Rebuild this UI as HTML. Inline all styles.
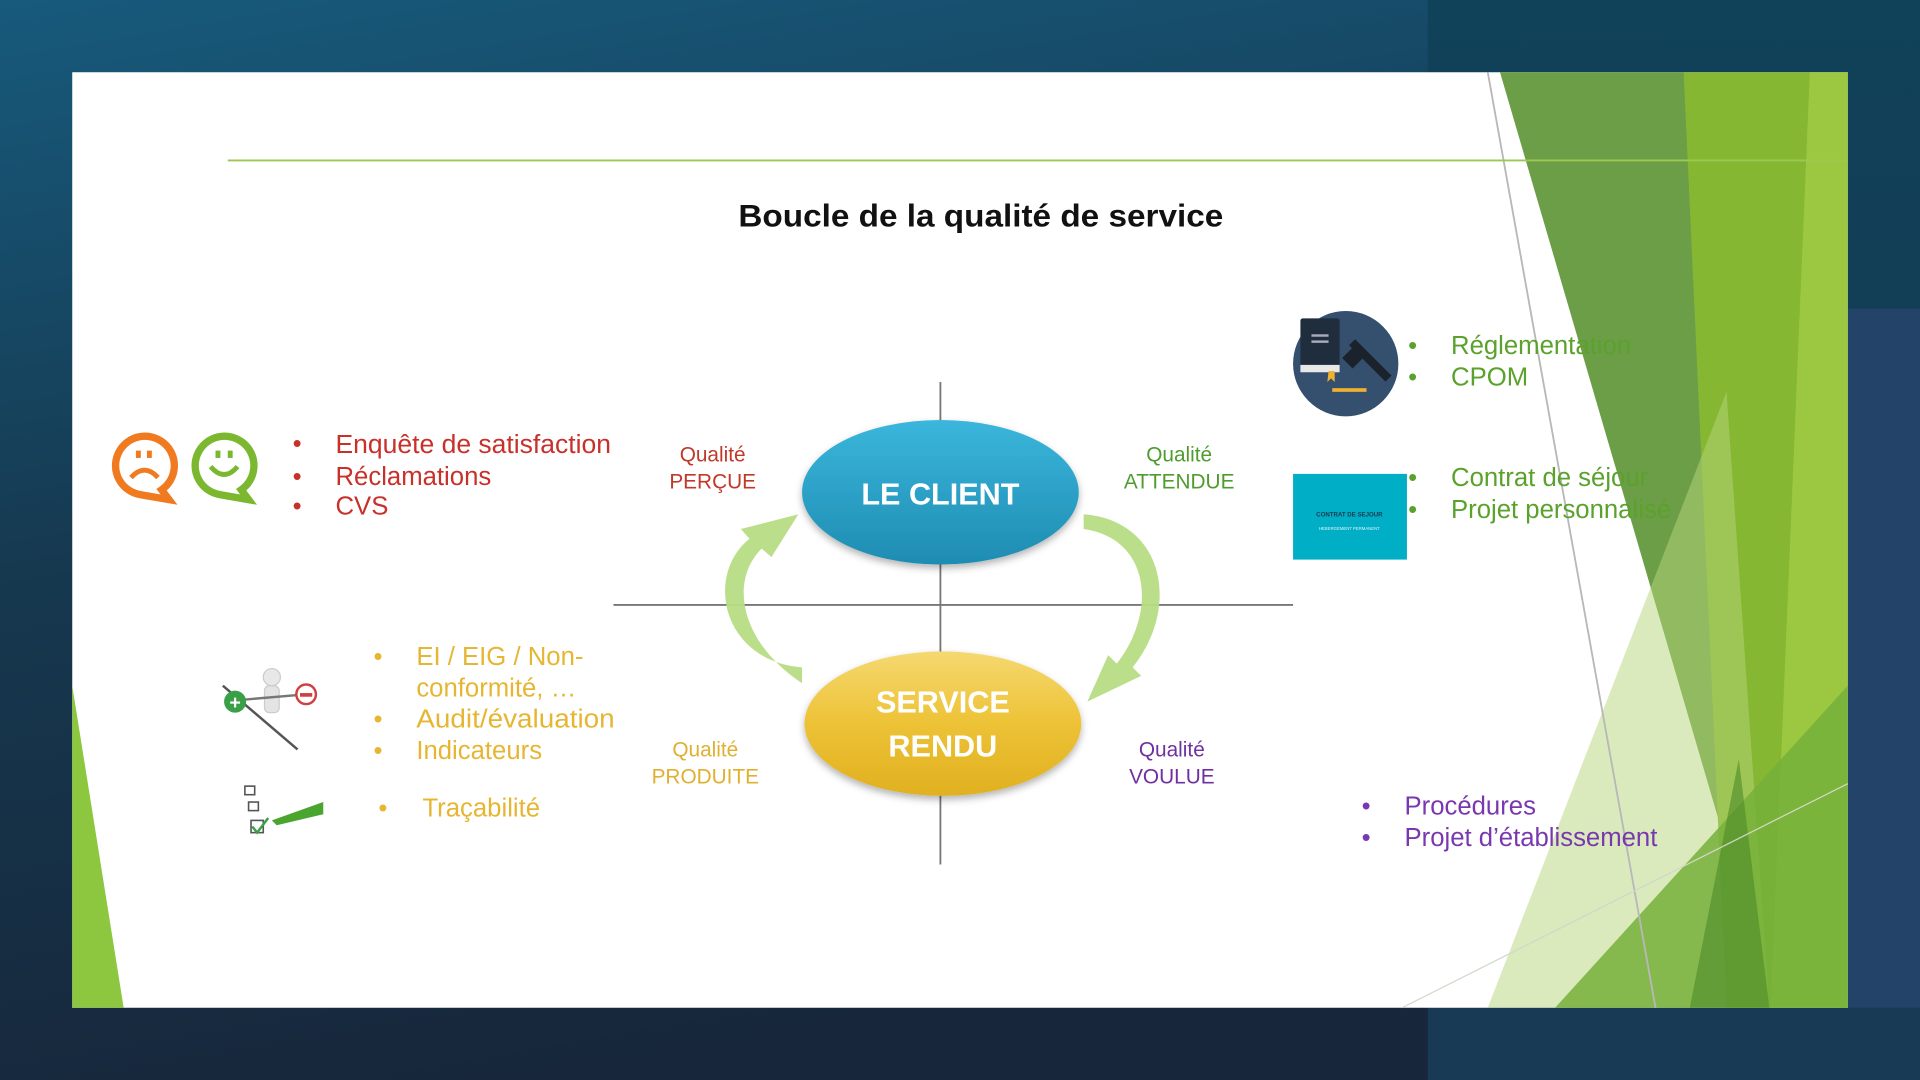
<!DOCTYPE html>
<html><head><meta charset="utf-8"><style>
html,body{margin:0;padding:0;width:1920px;height:1080px;overflow:hidden;background:#172a40}
svg{display:block}
text{font-family:"Liberation Sans","DejaVu Sans",sans-serif}
</style></head><body>
<svg width="1920" height="1080" viewBox="0 0 1568 882" preserveAspectRatio="none" xmlns="http://www.w3.org/2000/svg">
<defs>
<linearGradient id="bg" x1="0" y1="0" x2="0.3" y2="1">
<stop offset="0" stop-color="#175a7c"/><stop offset="0.5" stop-color="#16384f"/><stop offset="1" stop-color="#17263a"/></linearGradient>
<linearGradient id="bgr" x1="0" y1="0" x2="0" y2="1">
<stop offset="0" stop-color="#10425a"/><stop offset="1" stop-color="#18324a"/></linearGradient>
<linearGradient id="blue" x1="0" y1="0" x2="0" y2="1">
<stop offset="0" stop-color="#3bb6dc"/><stop offset="1" stop-color="#1e8cb2"/></linearGradient>
<linearGradient id="yel" x1="0" y1="0" x2="0" y2="1">
<stop offset="0" stop-color="#f5d870"/><stop offset="0.5" stop-color="#edc236"/><stop offset="1" stop-color="#e0b020"/></linearGradient>
<filter id="sh" x="-20%" y="-20%" width="140%" height="150%"><feDropShadow dx="0" dy="3" stdDeviation="3" flood-opacity="0.3"/></filter>
</defs>
<rect width="1568" height="882" fill="url(#bg)"/>
<rect x="1166" y="0" width="402" height="882" fill="url(#bgr)"/>
<rect x="1509" y="252" width="59" height="571" fill="#234468"/>
<rect x="1166" y="823" width="402" height="59" fill="#183a55"/>
<rect x="59" y="59" width="1450" height="764" fill="#ffffff"/>
<polygon points="59,560 59,823 101,823" fill="#8dc63f"/>
<polygon points="1225,59 1378,59 1430,760" fill="#6c9e48"/>
<polygon points="1375,59 1480,59 1448,823 1410,823" fill="#86b733"/>
<polygon points="1478,59 1509,59 1509,823 1446,823" fill="#9bc840"/>
<polygon points="1215,823 1410,320 1445,823" fill="#b5d67a" opacity="0.5"/>
<polygon points="1270,823 1509,560 1509,823" fill="#76b03a" opacity="0.85"/>
<polygon points="1380,823 1420,620 1445,823" fill="#4c8a2a" opacity="0.6"/>
<line x1="1215" y1="59" x2="1352" y2="823" stroke="#b8b8b8" stroke-width="1.5"/>
<line x1="1145" y1="823" x2="1509" y2="640" stroke="#d0d8c8" stroke-width="1"/>
<line x1="186" y1="131" x2="1509" y2="131" stroke="#9bc850" stroke-width="1.5"/>
<text x="801" y="185" text-anchor="middle" font-size="26" font-weight="bold" fill="#111" textLength="396" lengthAdjust="spacingAndGlyphs">Boucle de la qualité de service</text>
<line x1="768" y1="312" x2="768" y2="706" stroke="#777" stroke-width="1.5"/>
<line x1="501" y1="494" x2="1056" y2="494" stroke="#777" stroke-width="1.5"/>
<path d="M655,545 C590,540 575,470 612,440 L605,432 L652,420 L630,455 L622,448 C595,475 605,525 655,558 Z" fill="#b7dc84" opacity="0.95"/>
<path d="M885,420 C950,425 965,495 925,545 L932,552 L888,573 L905,535 L912,542 C945,500 940,440 885,432 Z" fill="#b7dc84" opacity="0.95"/>
<ellipse cx="768" cy="402" rx="113" ry="59" fill="url(#blue)" filter="url(#sh)"/>
<text x="768" y="412" text-anchor="middle" font-size="25" font-weight="bold" fill="#fff">LE CLIENT</text>
<ellipse cx="770" cy="591" rx="113" ry="59" fill="url(#yel)" filter="url(#sh)"/>
<text x="770" y="582" text-anchor="middle" font-size="25" font-weight="bold" fill="#fff">SERVICE</text>
<text x="770" y="618" text-anchor="middle" font-size="25" font-weight="bold" fill="#fff">RENDU</text>
<g font-size="17" text-anchor="middle">
<text x="582" y="377" fill="#c0392b">Qualité</text><text x="582" y="399" fill="#c0392b">PERÇUE</text>
<text x="963" y="377" fill="#4f9c2e">Qualité</text><text x="963" y="399" fill="#4f9c2e">ATTENDUE</text>
<text x="576" y="618" fill="#e0b030">Qualité</text><text x="576" y="640" fill="#e0b030">PRODUITE</text>
<text x="957" y="618" fill="#7030a0">Qualité</text><text x="957" y="640" fill="#7030a0">VOULUE</text>
</g>
<g fill="none" stroke-width="6">
<path d="M132,400 A24,24 0 1 0 115,404 L138,408 Z" stroke="#f07a20"/>
<path d="M197,400 A24,24 0 1 0 180,404 L203,408 Z" stroke="#7cb82f"/>
</g>
<rect x="111" y="368" width="4" height="6" fill="#f07a20"/><rect x="120" y="368" width="4" height="6" fill="#f07a20"/>
<path d="M107,390 Q118,378 129,390" stroke="#f07a20" stroke-width="4" fill="none"/>
<rect x="176" y="368" width="4" height="6" fill="#7cb82f"/><rect x="186" y="368" width="4" height="6" fill="#7cb82f"/>
<path d="M172,381 Q183,394 194,381" stroke="#7cb82f" stroke-width="4" fill="none"/>
<g font-size="21" fill="#c8302a">
<text x="239" y="369">•</text><text x="274" y="370" textLength="225" lengthAdjust="spacingAndGlyphs">Enquête de satisfaction</text>
<text x="239" y="396">•</text><text x="274" y="396">Réclamations</text>
<text x="239" y="420">•</text><text x="274" y="420">CVS</text>
</g>
<line x1="182" y1="560" x2="243" y2="612" stroke="#555" stroke-width="2"/>
<circle cx="222" cy="553" r="7" fill="#e8e8e8" stroke="#ccc"/>
<rect x="216" y="560" width="12" height="22" rx="4" fill="#e4e4e4" stroke="#ccc"/>
<line x1="192" y1="572" x2="250" y2="567" stroke="#777" stroke-width="2"/>
<circle cx="192" cy="573" r="9" fill="#3aa048"/><text x="192" y="579" text-anchor="middle" font-size="16" font-weight="bold" fill="#fff">+</text>
<circle cx="250" cy="567" r="8" fill="#fff" stroke="#d04040" stroke-width="2"/><rect x="245" y="566" width="10" height="3" fill="#d04040"/>
<g stroke="#555" fill="none" stroke-width="1.3">
<rect x="200" y="642" width="8" height="7"/><rect x="203" y="655" width="8" height="7"/><rect x="205" y="670" width="10" height="10"/>
</g>
<path d="M206,675 L210,680 L219,668" stroke="#3aa048" stroke-width="2" fill="none"/>
<polygon points="222,670 264,655 264,665 226,674" fill="#4aa52e"/>
<g font-size="21" fill="#e6b632">
<text x="305" y="543">•</text><text x="340" y="543">EI / EIG / Non-</text>
<text x="340" y="569">conformité, …</text>
<text x="305" y="594">•</text><text x="340" y="594" textLength="162" lengthAdjust="spacingAndGlyphs">Audit/évaluation</text>
<text x="305" y="620">•</text><text x="340" y="620">Indicateurs</text>
<text x="309" y="667">•</text><text x="345" y="667">Traçabilité</text>
</g>
<circle cx="1099" cy="297" r="43" fill="#35506e"/>
<rect x="1062" y="260" width="32" height="40" rx="2" fill="#1f2d3d"/>
<rect x="1062" y="298" width="32" height="6" fill="#e8e8e8"/>
<rect x="1071" y="273" width="14" height="2" fill="#aab"/><rect x="1071" y="278" width="14" height="2" fill="#aab"/>
<polygon points="1085,303 1090,303 1090,312 1087,309 1084,312" fill="#f0b030"/>
<rect x="1098" y="290" width="42" height="7" fill="#1a222c" transform="rotate(45 1118 294)"/>
<rect x="1098" y="285" width="18" height="12" fill="#1a222c" transform="rotate(-45 1106 291)"/>
<rect x="1088" y="317" width="28" height="3" fill="#f0b030"/>
<rect x="1056" y="387" width="93" height="70" fill="#00aec6"/>
<text x="1102" y="422" text-anchor="middle" font-size="5" font-weight="bold" fill="#1a3a50">CONTRAT DE SEJOUR</text>
<text x="1102" y="433" text-anchor="middle" font-size="3.5" fill="#e0f6fa">HEBERGEMENT PERMANENT</text>
<g font-size="21" fill="#5aa22c">
<text x="1150" y="289">•</text><text x="1185" y="289">Réglementation</text>
<text x="1150" y="315">•</text><text x="1185" y="315">CPOM</text>
<text x="1150" y="397">•</text><text x="1185" y="397">Contrat de séjour</text>
<text x="1150" y="423">•</text><text x="1185" y="423">Projet personnalisé</text>
</g>
<g font-size="21" fill="#7a38b0">
<text x="1112" y="665">•</text><text x="1147" y="665">Procédures</text>
<text x="1112" y="691">•</text><text x="1147" y="691">Projet d’établissement</text>
</g>
</svg>
</body></html>
